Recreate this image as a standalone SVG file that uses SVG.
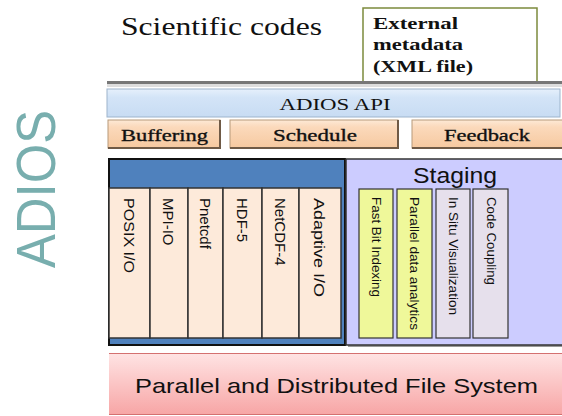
<svg xmlns="http://www.w3.org/2000/svg" width="562" height="416" viewBox="0 0 562 416">
<style>
.serif{font-family:"Liberation Serif","Times New Roman",serif;fill:#111}
.sans{font-family:"Liberation Sans",Arial,sans-serif;fill:#111}
.lbl{font-family:"Liberation Serif","Times New Roman",serif;fill:#111;stroke:#111;stroke-width:0.35;font-size:17px}
.peach{fill:url(#gPeach);stroke:#b89a7a;stroke-width:1}
.col{fill:#fdeada;stroke:#333;stroke-width:1.5}
.ycol{fill:#eff89a;stroke:#333;stroke-width:1.2}
.gcol{fill:#e6e0ec;stroke:#333;stroke-width:1.2}
</style>
<defs>
<linearGradient id="gPeach" x1="0" y1="0" x2="0" y2="1">
<stop offset="0" stop-color="#fde9d6"/><stop offset="0.25" stop-color="#fbd9bb"/><stop offset="1" stop-color="#f6c9a0"/>
</linearGradient>
<linearGradient id="gBlue" x1="0" y1="0" x2="0" y2="1">
<stop offset="0" stop-color="#e6f0fb"/><stop offset="0.3" stop-color="#d3e4f7"/><stop offset="1" stop-color="#c8dcf3"/>
</linearGradient>
<linearGradient id="gPink" x1="0" y1="0" x2="0" y2="1">
<stop offset="0" stop-color="#ffe4e4"/><stop offset="1" stop-color="#f7a6a6"/>
</linearGradient>
</defs>

<g id="adios-label">
<text class="sans" transform="translate(55,268) rotate(-90)" font-size="56" style="fill:#78aeae" textLength="158" lengthAdjust="spacingAndGlyphs">ADIOS</text>
</g>

<g id="scientific-codes">
<text class="serif" x="121" y="35" font-size="25" textLength="201" lengthAdjust="spacingAndGlyphs">Scientific codes</text>
</g>

<g id="external-metadata">
<rect x="363" y="8" width="174" height="75" fill="#fff" stroke="#7c8a3c" stroke-width="1.5"/>
<text class="serif" font-weight="bold" font-size="16" x="373" y="29" textLength="85" lengthAdjust="spacingAndGlyphs">External</text>
<text class="serif" font-weight="bold" font-size="16" x="373" y="50" textLength="90" lengthAdjust="spacingAndGlyphs">metadata</text>
<text class="serif" font-weight="bold" font-size="16" x="373" y="72" textLength="100" lengthAdjust="spacingAndGlyphs">(XML file)</text>
</g>

<g id="top-line">
<rect x="107" y="81" width="455" height="3" fill="#777"/>
<rect x="107" y="84" width="455" height="3" fill="#ddd"/>
</g>

<g id="adios-api">
<rect x="107" y="89" width="453" height="28" fill="url(#gBlue)" stroke="#9db4cc" stroke-width="1"/>
<text class="serif" x="335" y="110" font-size="16" text-anchor="middle" textLength="111" lengthAdjust="spacingAndGlyphs">ADIOS API</text>
</g>

<g id="buffering">
<rect x="108" y="120" width="112" height="28" class="peach"/>
<path d="M220 120 V148 H108" fill="none" stroke="#6f5a46" stroke-width="2"/>
<text class="lbl" x="121" y="141" textLength="87" lengthAdjust="spacingAndGlyphs">Buffering</text>
</g>
<g id="schedule">
<rect x="230" y="120" width="168" height="28" class="peach"/>
<path d="M398 120 V148 H230" fill="none" stroke="#6f5a46" stroke-width="2"/>
<text class="lbl" x="273" y="141" textLength="84" lengthAdjust="spacingAndGlyphs">Schedule</text>
</g>
<g id="feedback">
<rect x="412" y="120" width="152" height="28" class="peach"/>
<path d="M412 148 H564" fill="none" stroke="#6f5a46" stroke-width="2"/>
<text class="lbl" x="444" y="141" textLength="86" lengthAdjust="spacingAndGlyphs">Feedback</text>
</g>

<g id="io-methods">
<rect x="109" y="159" width="236" height="186" fill="#4f81bd" stroke="#111" stroke-width="2"/>
</g>
<g id="posix"><rect class="col" x="109" y="188" width="41" height="150"/>
<text class="sans" font-size="15" transform="translate(124,198) rotate(90)" textLength="75" lengthAdjust="spacingAndGlyphs">POSIX I/O</text></g>
<g id="mpi-io"><rect class="col" x="150" y="188" width="38" height="150"/>
<text class="sans" font-size="15" transform="translate(163,198) rotate(90)">MPI-IO</text></g>
<g id="pnetcdf"><rect class="col" x="188" y="188" width="35" height="150"/>
<text class="sans" font-size="15" transform="translate(200,198) rotate(90)">Pnetcdf</text></g>
<g id="hdf5"><rect class="col" x="223" y="188" width="39" height="150"/>
<text class="sans" font-size="15" transform="translate(237,198) rotate(90)">HDF-5</text></g>
<g id="netcdf4"><rect class="col" x="262" y="188" width="37" height="150"/>
<text class="sans" font-size="15" transform="translate(275,198) rotate(90)">NetCDF-4</text></g>
<g id="adaptive"><rect class="col" x="299" y="188" width="42" height="150"/>
<text class="sans" font-size="15" transform="translate(314,198) rotate(90)" textLength="99" lengthAdjust="spacingAndGlyphs">Adaptive I/O</text></g>

<g id="staging">
<rect x="348" y="161" width="216" height="186" fill="#999"/>
<rect x="346" y="159" width="218" height="186" fill="#ccccff" stroke="#333" stroke-width="1.5"/>
<text class="sans" x="455" y="183" font-size="22" text-anchor="middle" textLength="84" lengthAdjust="spacingAndGlyphs">Staging</text>
</g>
<g id="fastbit"><rect class="ycol" x="359" y="189" width="34" height="149"/>
<text class="sans" font-size="13" transform="translate(372,197) rotate(90)" textLength="100" lengthAdjust="spacingAndGlyphs">Fast Bit Indexing</text></g>
<g id="parallel-analytics"><rect class="ycol" x="397" y="189" width="35" height="149"/>
<text class="sans" font-size="13" transform="translate(410,197) rotate(90)" textLength="133" lengthAdjust="spacingAndGlyphs">Parallel data analytics</text></g>
<g id="insitu"><rect class="gcol" x="436" y="189" width="34" height="149"/>
<text class="sans" font-size="13" transform="translate(449,197) rotate(90)" textLength="118" lengthAdjust="spacingAndGlyphs">In Situ Visualization</text></g>
<g id="coupling"><rect class="gcol" x="473" y="189" width="35" height="149"/>
<text class="sans" font-size="13" transform="translate(487,197) rotate(90)" textLength="88" lengthAdjust="spacingAndGlyphs">Code Coupling</text></g>

<g id="file-system">
<rect x="109" y="353" width="455" height="61" fill="url(#gPink)"/>
<line x1="109" y1="353.5" x2="564" y2="353.5" stroke="#d47070" stroke-width="1"/>
<line x1="109" y1="414.5" x2="564" y2="414.5" stroke="#d47070" stroke-width="1"/>
<text class="sans" x="135" y="393" font-size="21" textLength="403" lengthAdjust="spacingAndGlyphs">Parallel and Distributed File System</text>
</g>
<g id="connectors"/>
</svg>
